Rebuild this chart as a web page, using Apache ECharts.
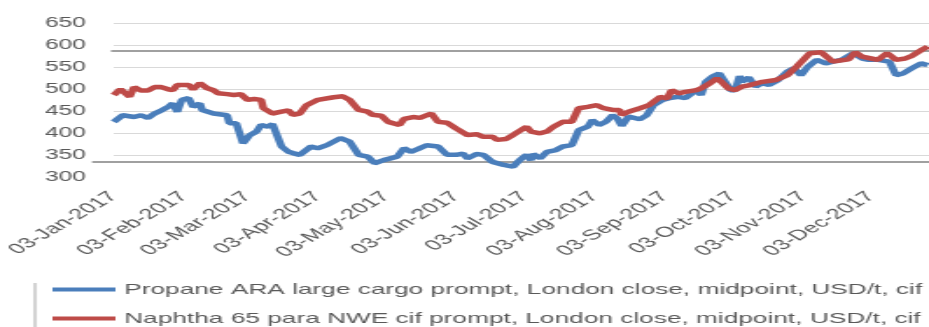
<!DOCTYPE html>
<html>
<head>
<meta charset="utf-8">
<script src="https://cdn.jsdelivr.net/npm/echarts@6/dist/echarts.min.js"></script>
<style>
  html, body { margin: 0; padding: 0; background: #fff; overflow: hidden; width: 929px; height: 327px; }
  #chart { width: 531px; height: 327px; transform: scaleX(1.7495); transform-origin: 0 0; }
</style>
</head>
<body>
<div id="chart"></div>
<script>
// ---- data ----
const seriesNames = [
  'Propane ARA large cargo prompt, London close, midpoint, USD/t, cif',
  'Naphtha 65 para NWE cif prompt, London close, midpoint, USD/t, cif'
];
const xTickLabels = ['03-Jan-2017','03-Feb-2017','03-Mar-2017','03-Apr-2017','03-May-2017','03-Jun-2017',
  '03-Jul-2017','03-Aug-2017','03-Sep-2017','03-Oct-2017','03-Nov-2017','03-Dec-2017'];
const yTicks = [300, 350, 400, 450, 500, 550, 600, 650];

const propaneDates = ['01-03','01-07','01-12','01-15','01-18','01-21','01-24','01-27','01-29','01-31',
  '02-02','02-05','02-07','02-10','02-11','02-16','02-22','02-23','02-26','03-01','03-04','03-07','03-09',
  '03-12','03-14','03-18','03-21','03-23','03-26','03-31','04-03','04-07','04-13','04-17','04-21','04-25',
  '04-28','05-02','05-08','05-11','05-14','05-17','05-21','05-26','05-30','06-03','06-06','06-08','06-12',
  '06-15','06-19','06-24','06-28','07-01','07-04','07-06','07-07','07-10','07-13','07-17','07-20','07-24',
  '07-27','07-31','08-02','08-05','08-08','08-11','08-13','08-15','08-18','08-23','08-26','08-29','09-02',
  '09-05','09-09','09-12','09-17','09-19','09-21','09-24','09-27','09-30','10-02','10-04','10-06','10-07',
  '10-10','10-13','10-16','10-19','10-23','10-27','10-30','11-02','11-05','11-09','11-13','11-16','11-20',
  '11-25','11-29','12-02','12-06','12-11','12-14','12-17','12-21','12-25','12-28'];
const propaneValues = [426,441,437,441,435,445,452,460,468,449,
  476,480,460,468,453,445,441,423,423,377,396,404,419,
  415,421,370,358,355,351,370,366,373,389,381,351,347,
  332,339,347,366,358,364,373,370,351,351,354,343,353,
  351,335,328,324,339,351,339,353,343,358,362,370,373,
  407,415,430,419,426,441,434,417,438,432,441,464,476,
  480,483,480,498,487,517,529,536,514,498,498,530,517,
  527,506,514,510,521,540,548,532,551,567,559,563,567,
  582,570,567,567,563,532,536,548,559,555];

const naphthaDates = ['01-03','01-06','01-10','01-12','01-15','01-18','01-21','01-24','01-27','01-29',
  '01-31','02-05','02-07','02-10','02-13','02-16','02-18','02-22','02-25','02-28','03-03','03-06','03-09',
  '03-10','03-14','03-18','03-21','03-23','03-26','03-29','04-03','04-10','04-14','04-17','04-21','04-25',
  '04-27','05-01','05-04','05-09','05-11','05-15','05-18','05-23','05-26','05-30','06-03','06-08','06-12',
  '06-15','06-19','06-21','06-25','06-28','07-04','07-06','07-10','07-13','07-16','07-20','07-24','07-27',
  '07-31','08-04','08-07','08-11','08-14','08-15','08-18','08-23','08-27','09-01','09-04','09-06','09-09',
  '09-12','09-17','09-19','09-23','09-26','09-28','10-01','10-04','10-07','10-10','10-16','10-22','10-27',
  '10-31','11-06','11-11','11-16','11-20','11-23','11-26','11-29','12-03','12-06','12-10','12-14','12-18',
  '12-21','12-25','12-28'];
const naphthaValues = [487,500,483,505,497,497,505,505,500,498,
  510,510,500,514,503,498,491,489,487,489,476,478,476,
  457,445,449,452,442,445,464,476,482,484,476,453,449,
  442,440,426,419,433,437,435,445,426,424,411,396,398,
  392,392,385,387,396,415,404,400,404,415,426,426,457,
  460,464,457,453,453,442,449,457,464,483,479,498,491,
  494,498,502,514,525,517,502,498,506,509,517,521,532,
  551,582,584,563,566,568,584,574,570,567,582,567,570,
  576,589,597];

// ---- chart ----
const DAY = 864e5;
const xMin = Date.UTC(2017, 0, 3);
const xMax = xMin + 359.5 * DAY;
const tickValues = xTickLabels.map((s, i) => Date.UTC(2017, i, 3));
const toPairs = (dates, vals) => dates.map((d, i) => {
  const [m, dd] = d.split('-').map(Number);
  return [Date.UTC(2017, m - 1, dd), vals[i]];
});

const chart = echarts.init(document.getElementById('chart'));
const FONT = '"Liberation Sans", Arial, sans-serif';
const gridColors = yTicks.map((v, i) => i === 0 ? 'rgba(0,0,0,0)' : '#d9d9d9');

chart.setOption({
  animation: false,
  color: ['#4a7ebb', '#be4b48'],
  grid: { left: 64.6, right: 0, top: 23.3, bottom: 149.7, containLabel: false },
  xAxis: {
    type: 'value',
    min: xMin,
    max: xMax,
    axisLine: { show: false },
    axisTick: { show: false },
    splitLine: { show: false },
    axisLabel: {
      customValues: tickValues,
      rotate: 45,
      margin: 17,
      color: '#595959',
      fontFamily: FONT,
      fontSize: 14.5,
      hideOverlap: false,
      showMinLabel: true,
      showMaxLabel: true,
      formatter: function (val) {
        const i = tickValues.indexOf(val);
        return i >= 0 ? xTickLabels[i] : '';
      }
    }
  },
  yAxis: {
    type: 'value',
    min: yTicks[0],
    max: yTicks[yTicks.length - 1],
    interval: 50,
    axisLine: { show: false },
    axisTick: { show: false },
    axisLabel: { color: '#595959', fontFamily: FONT, fontSize: 14, margin: 16 },
    splitLine: { lineStyle: { color: gridColors, width: 1 } }
  },
  legend: {
    orient: 'vertical',
    left: 30,
    top: 281,
    padding: 0,
    icon: 'rect',
    itemWidth: 36,
    itemHeight: 4,
    itemGap: 12,
    textStyle: { color: '#595959', fontFamily: FONT, fontSize: 15, lineHeight: 17 },
    data: seriesNames
  },
  graphic: [
    { type: 'line', z: 1, shape: { x1: 52.6, y1: 162, x2: 531, y2: 162 }, style: { stroke: '#808080', lineWidth: 1.5 } },
    { type: 'line', z: 1, shape: { x1: 63.4, y1: 51, x2: 531, y2: 51 }, style: { stroke: '#808080', lineWidth: 1.5 } },
    { type: 'line', z: 1, shape: { x1: 20, y1: 283, x2: 20, y2: 327 }, style: { stroke: '#a6a6a6', lineWidth: 1 } }
  ],
  series: [
    {
      name: seriesNames[0], type: 'line', showSymbol: false, symbol: 'none',
      lineStyle: { width: 4.5, color: '#4a7ebb' },
      data: toPairs(propaneDates, propaneValues)
    },
    {
      name: seriesNames[1], type: 'line', showSymbol: false, symbol: 'none',
      lineStyle: { width: 4.5, color: '#be4b48' },
      data: toPairs(naphthaDates, naphthaValues)
    }
  ]
});
</script>
</body>
</html>
